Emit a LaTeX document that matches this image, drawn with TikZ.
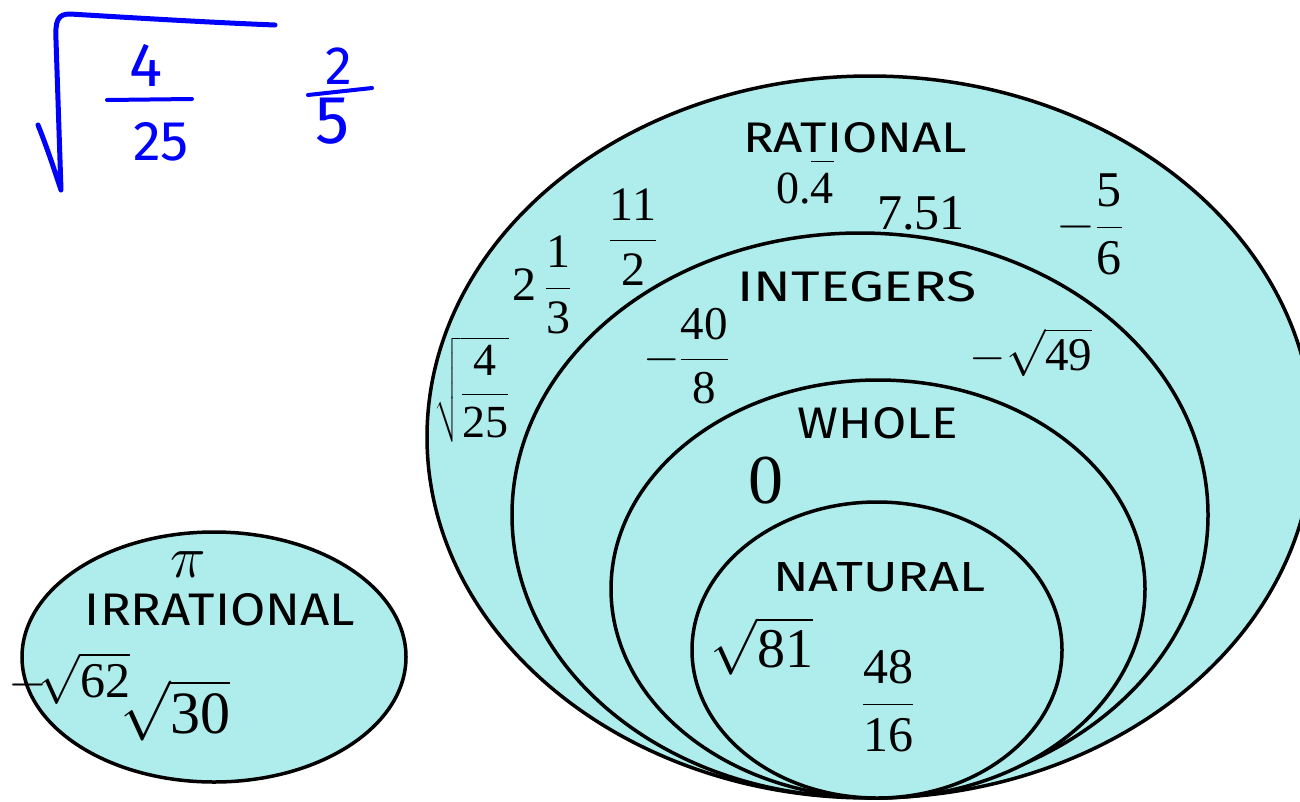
\RequirePackage{fix-cm}
\documentclass[tikz,border=0pt]{standalone}
\usepackage{amsmath}
\usepackage{fontspec}
\setmainfont{Liberation Serif}
\newfontfamily\labelfont{Fira Sans}
\usetikzlibrary{shapes.geometric}
\definecolor{venn}{RGB}{175,237,237}
\definecolor{penblue}{RGB}{0,0,255}
\newcommand\msz[1]{\fontsize{#1}{#1}\selectfont}
\newcommand\dg[1]{\text{#1}}
\tikzset{
  setshape/.style={ellipse, draw=black, line width=3.5pt, fill=venn, inner sep=0pt},
  catlabel/.style={inner sep=0pt, font=\labelfont},
  numlabel/.style={inner sep=0pt},
  pen/.style={draw=penblue, line width=5pt, line cap=round, line join=round},
  pentext/.style={inner sep=0pt, text=penblue, font=\labelfont}
}
\begin{document}
\begin{tikzpicture}[x=1pt, y=-1pt]
\useasboundingbox (0,0) rectangle (1300,801);
\clip (0,0) rectangle (1300,801);

% Venn ellipses
\node[setshape, minimum width=886pt, minimum height=722pt] (rational) at (870,437) {};
\node[setshape, minimum width=696pt, minimum height=564pt] (integers) at (860,515) {};
\node[setshape, minimum width=534pt, minimum height=418pt] (whole) at (878,589) {};
\node[setshape, minimum width=370pt, minimum height=296pt] (natural) at (877,650) {};
\node[setshape, minimum width=384pt, minimum height=250pt] (irrational) at (214,657) {};

% category labels
\node[catlabel] (lrat) at (855,138) {\resizebox{224pt}{30pt}{RATIONAL}};
\node[catlabel] (lint) at (857,287) {\resizebox{239pt}{30pt}{INTEGERS}};
\node[catlabel] (lwho) at (878,423) {\resizebox{160pt}{31pt}{WHOLE}};
\node[catlabel] (lnat) at (879,577) {\resizebox{212pt}{29pt}{NATURAL}};
\node[catlabel] (lirr) at (220,610) {\resizebox{270pt}{32pt}{IRRATIONAL}};

% rational numbers
\node[numlabel, anchor=base] (q04) at (805,203) {\msz{46}$\dg{0.}\overline{\dg{4}\rule{0pt}{0.82em}}$};
\node[numlabel, anchor=base] (q751) at (921,229) {\msz{50}$\dg{7.51}$};
\node[numlabel] (q56) at (1090,224) {\msz{50}$-\dfrac{\dg{5}}{\dg{6}}$};
\node[numlabel] (q112) at (633,237) {\msz{48}$\dfrac{\dg{11}}{\dg{2}}$};
\node[numlabel] (q213) at (542,285) {\msz{48}$\dg{2}\,\dfrac{\dg{1}}{\dg{3}}$};
\node[numlabel] (q425) at (472,390) {\msz{46}$\sqrt{\dfrac{\dg{4}}{\dg{25}}}$};

% integers
\node[numlabel] (z408) at (686,356) {\msz{47}$-\dfrac{\dg{40}}{\dg{8}}$};
\node[numlabel, anchor=base] (z49) at (1031,370) {\msz{47}$-\sqrt{\dg{49}}$};

% whole
\node[numlabel] (w0) at (766,481) {\msz{70}$\dg{0}$};

% natural
\node[numlabel, anchor=base] (n81) at (762,667) {\msz{56}$\sqrt{\dg{81}}$};
\node[numlabel] (n4816) at (888,701) {\msz{50}$\dfrac{\dg{48}}{\dg{16}}$};

% irrational
\node[numlabel] (ipi) at (188,565) {\msz{60}$\pi$};
\node[numlabel, anchor=base west] (i62) at (8,697) {\msz{50}$-\!\sqrt{\dg{62}}$};
\node[numlabel, anchor=base west] (i30) at (120,733) {\msz{60}$\sqrt{\dg{30}}$};

% blue handwriting
\draw[pen] (38,125) .. controls (48,150) and (55,172) .. (61,190)
  -- (56,40) .. controls (55,20) and (58,14) .. (70,14)
  .. controls (120,17) and (200,22) .. (275,25);
\node[pentext] (b4) at (146,65) {\msz{62}4};
\node[pentext] (b25) at (161,142) {\msz{56}25};
\draw[pen, line width=4pt] (107,100) -- (192,99);
\node[pentext] (b2) at (339,66) {\msz{54}2};
\node[pentext] (b5) at (333,121) {\msz{68}5};
\draw[pen, line width=4pt] (308,95) -- (372,88);
\end{tikzpicture}
\end{document}
